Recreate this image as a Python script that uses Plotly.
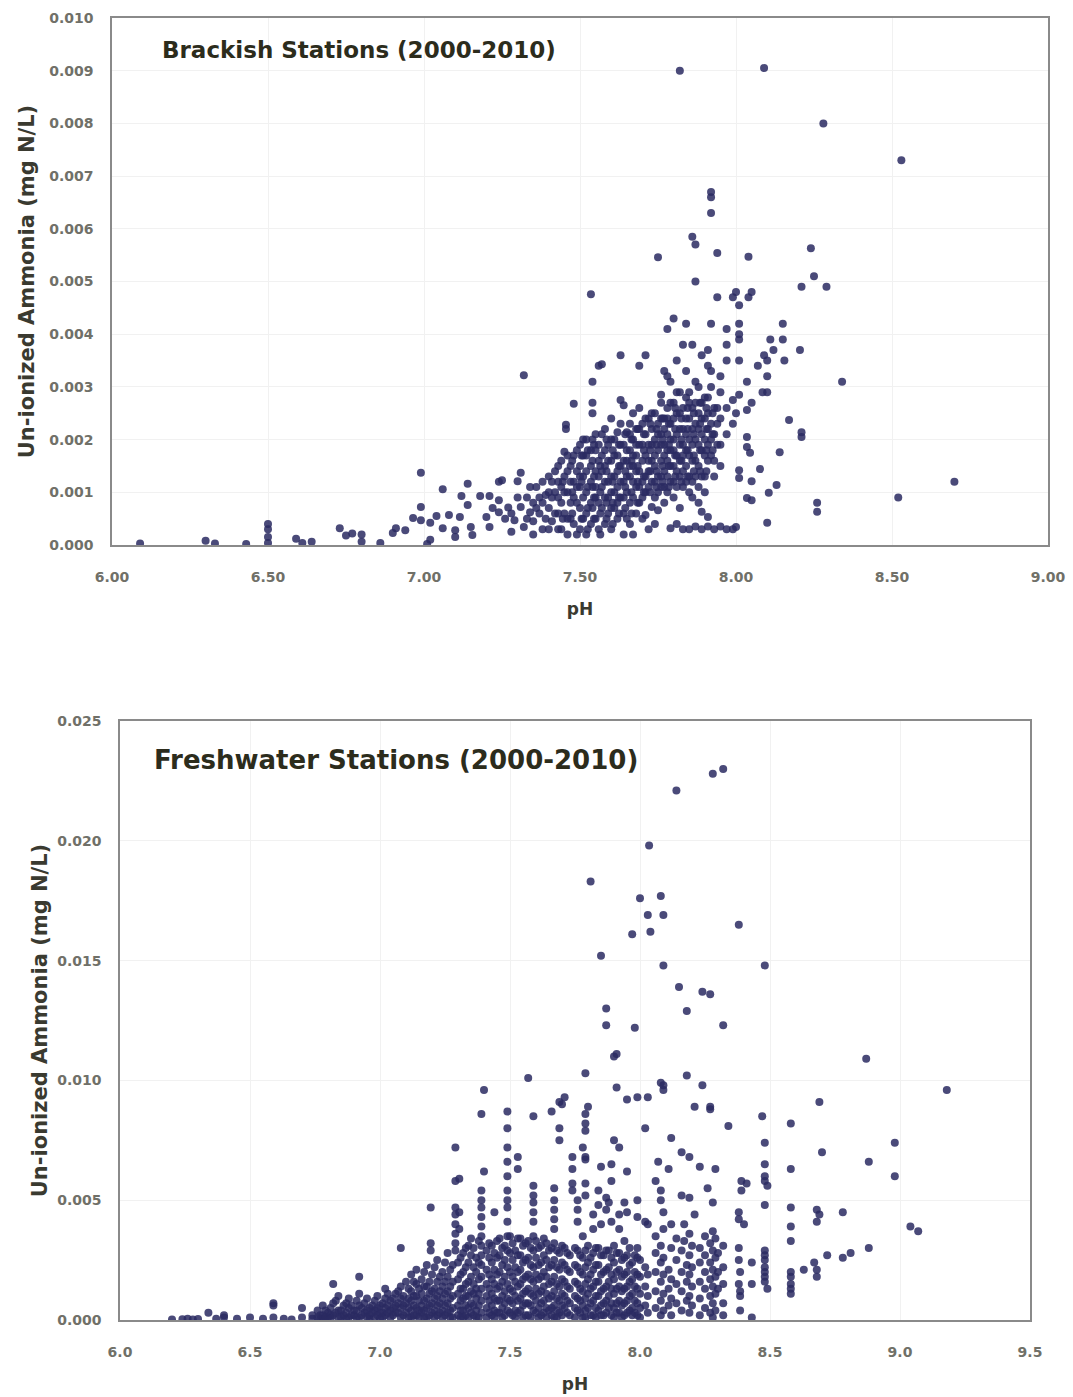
import plotly.graph_objects as go

# ---------------- Brackish stations: pH columns and un-ionized ammonia values ----------------
brackish_ph = [6.09, 6.30, 6.33, 6.43, 6.50, 6.59, 6.61, 6.64, 6.73, 6.75, 6.77, 6.80, 6.86,
               6.90, 6.91, 6.94, 6.965, 6.99, 7.01, 7.02, 7.04, 7.06, 7.08, 7.10, 7.115, 7.12,
               7.14, 7.15, 7.155, 7.18, 7.20, 7.21, 7.22, 7.24, 7.25, 7.26, 7.27, 7.28, 7.29,
               7.30, 7.31, 7.32, 7.33, 7.34, 7.35, 7.36, 7.37, 7.38, 7.39, 7.40, 7.41, 7.42,
               7.43, 7.44, 7.45, 7.455, 7.46, 7.47, 7.48, 7.49, 7.50, 7.51, 7.52, 7.535, 7.54,
               7.55, 7.56, 7.57, 7.58, 7.59, 7.60, 7.61, 7.62, 7.63, 7.64, 7.65, 7.66, 7.67,
               7.68, 7.69, 7.70, 7.71, 7.72, 7.73, 7.74, 7.75, 7.76, 7.77, 7.78, 7.79, 7.80,
               7.81, 7.82, 7.83, 7.84, 7.85, 7.86, 7.87, 7.88, 7.89, 7.90, 7.91, 7.92, 7.93,
               7.94, 7.95, 7.97, 7.99, 8.00, 8.01, 8.035, 8.04, 8.045, 8.05, 8.07, 8.077, 8.085,
               8.09, 8.10, 8.105, 8.11, 8.12, 8.13, 8.14, 8.15, 8.155, 8.17, 8.205, 8.21, 8.24,
               8.25, 8.26, 8.28, 8.29, 8.34, 8.52, 8.53, 8.70]

brackish_nh3 = [
    [0.00003], [0.00008], [0.00003], [0.00002], [0.0004, 0.0003, 0.00015, 0.00004],
    [0.00012], [0.00004], [0.00006], [0.00032], [0.00018], [0.00022], [0.0002, 0.00006],
    [0.00004],
    [0.00023], [0.00032], [0.00028], [0.00051], [0.00137, 0.00072, 0.00047], [0.00002],
    [0.0001, 0.00042], [0.00055], [0.00106, 0.00032], [0.00057], [0.00028, 0.00015],
    [0.00053], [0.00093],
    [0.00116, 0.00076], [0.00034], [0.00019], [0.00093], [0.00053], [0.00093, 0.00034],
    [0.0007], [0.0012, 0.00085, 0.00062], [0.00123], [0.0005], [0.00071], [0.0006, 0.00025],
    [0.00047],
    [0.00121, 0.0009], [0.00137, 0.00072], [0.00322, 0.00034], [0.0009, 0.0005],
    [0.00062, 0.0011], [0.0008, 0.00045, 0.0002], [0.0011, 0.0007], [0.0006, 0.0009],
    [0.0003, 0.0012, 0.0008], [0.00095, 0.0005], [0.0013, 0.0007, 0.0010, 0.0003],
    [0.00045, 0.0009, 0.0012], [0.0010, 0.0006, 0.0014],
    [0.0015, 0.0012, 0.0006, 0.0009, 0.0003], [0.0008, 0.0003, 0.0011, 0.0016],
    [0.00177, 0.0013, 0.0010, 0.0006], [0.00228, 0.0022],
    [0.0014, 0.0010, 0.0005, 0.0017, 0.0002], [0.0005, 0.0012, 0.0008, 0.0015],
    [0.00268, 0.0017, 0.0012, 0.0009, 0.0004], [0.0008, 0.0002, 0.0014, 0.0018, 0.0011],
    [0.0019, 0.0015, 0.0011, 0.0007, 0.0003, 0.0013], [0.0017, 0.0013, 0.0009, 0.0005, 0.0020],
    [0.0020, 0.0014, 0.0010, 0.0006, 0.0002, 0.0017],
    [0.00476, 0.0018, 0.0012, 0.0008, 0.0004, 0.0015],
    [0.0031, 0.0027, 0.0025, 0.0016, 0.0011, 0.0007, 0.0020],
    [0.0021, 0.0014, 0.0009, 0.0005, 0.0018, 0.0011],
    [0.0034, 0.0019, 0.0013, 0.0003, 0.0016, 0.0008],
    [0.00343, 0.0017, 0.0011, 0.0007, 0.0021, 0.0014],
    [0.0022, 0.0015, 0.0009, 0.0004, 0.0018, 0.0012],
    [0.0019, 0.0012, 0.0006, 0.0016, 0.0009],
    [0.0024, 0.0016, 0.0010, 0.0003, 0.0020, 0.0013, 0.0007],
    [0.0020, 0.0013, 0.0007, 0.0017, 0.0010],
    [0.00214, 0.0017, 0.0011, 0.0005, 0.0014, 0.0008],
    [0.0036, 0.00275, 0.0023, 0.0015, 0.0009, 0.0019, 0.0012],
    [0.00265, 0.0019, 0.0012, 0.0006, 0.0002, 0.0016, 0.0009],
    [0.00214, 0.0016, 0.0010, 0.0013, 0.0018, 0.0005],
    [0.0023, 0.0018, 0.0013, 0.0008, 0.0004, 0.0021, 0.0015],
    [0.0025, 0.0020, 0.0015, 0.0009, 0.0002, 0.0012, 0.0017],
    [0.0022, 0.0017, 0.0011, 0.0006, 0.0014, 0.0019],
    [0.0034, 0.0026, 0.0019, 0.0014, 0.0008, 0.0011, 0.0022],
    [0.0023, 0.0016, 0.0012, 0.0005, 0.0019, 0.0009],
    [0.0036, 0.0021, 0.0017, 0.00057, 0.0010, 0.0013, 0.0024],
    [0.0024, 0.0019, 0.0014, 0.0003, 0.0011, 0.0016],
    [0.0022, 0.0016, 0.0012, 0.00072, 0.0019, 0.0025],
    [0.0025, 0.0020, 0.0015, 0.0009, 0.0004, 0.0012, 0.0017],
    [0.00546, 0.0023, 0.0018, 0.0013, 0.00066, 0.0021, 0.0010],
    [0.00285, 0.0027, 0.0021, 0.0016, 0.0011, 0.0013, 0.0019, 0.0024],
    [0.0033, 0.0024, 0.0019, 0.0014, 0.0008, 0.0017, 0.0011, 0.0022],
    [0.0041, 0.0032, 0.0026, 0.0021, 0.0016, 0.0010, 0.0013, 0.0018, 0.0024],
    [0.0031, 0.0023, 0.0018, 0.0012, 0.00032, 0.0015, 0.0020, 0.0027],
    [0.0043, 0.0027, 0.0020, 0.0015, 0.0009, 0.0012, 0.0018, 0.0024],
    [0.0035, 0.0025, 0.0017, 0.0004, 0.0014, 0.0021, 0.0011, 0.0029],
    [0.0090, 0.0029, 0.0022, 0.0013, 0.0007, 0.0016, 0.0019, 0.0025],
    [0.0038, 0.0026, 0.0019, 0.0011, 0.0003, 0.0014, 0.0022, 0.0017],
    [0.0042, 0.0033, 0.0028, 0.0021, 0.0015, 0.0012, 0.0018, 0.0024],
    [0.0029, 0.0024, 0.0017, 0.0003, 0.0013, 0.0020, 0.0010, 0.0027],
    [0.00585, 0.0038, 0.0026, 0.0019, 0.0012, 0.0016, 0.0022, 0.0009],
    [0.0057, 0.0050, 0.00035, 0.0023, 0.0016, 0.0013, 0.0020, 0.0027, 0.0031],
    [0.0030, 0.0025, 0.0019, 0.0011, 0.0015, 0.0022, 0.0008],
    [0.0036, 0.0027, 0.0021, 0.00063, 0.0003, 0.0018, 0.0013, 0.0024],
    [0.0024, 0.0017, 0.0013, 0.0020, 0.0010, 0.0028],
    [0.0037, 0.0034, 0.0028, 0.0022, 0.00053, 0.00035, 0.0016, 0.0019, 0.0025],
    [0.0067, 0.0066, 0.0063, 0.0042, 0.0033, 0.0030, 0.0020, 0.0017, 0.0023],
    [0.0026, 0.0016, 0.0003, 0.0021, 0.0013],
    [0.00554, 0.0047, 0.0026, 0.0023, 0.0019],
    [0.0032, 0.0029, 0.0019, 0.00035, 0.0024, 0.0015],
    [0.0041, 0.0038, 0.0035, 0.0003, 0.0026, 0.0021],
    [0.00275, 0.0047, 0.0003, 0.0023],
    [0.0048, 0.00034, 0.0025],
    [0.0042, 0.0040, 0.0039, 0.0035, 0.00285, 0.00455, 0.00142, 0.00127],
    [0.0031, 0.00256, 0.00205, 0.00186, 0.00089],
    [0.00547, 0.0047], [0.00175], [0.0048, 0.0027, 0.00121, 0.00085], [0.0034], [0.00144],
    [0.0029],
    [0.00905, 0.0036], [0.0035, 0.0032, 0.0029, 0.00042], [0.00099], [0.0039], [0.0037],
    [0.00114], [0.00176], [0.0042, 0.0039], [0.0035], [0.00237], [0.0037],
    [0.0049, 0.00214, 0.00205], [0.00563],
    [0.0051], [0.0008, 0.00063], [0.0080], [0.0049], [0.0031], [0.0009], [0.0073], [0.0012],
]

# extra readings filling the dense brackish core (7.45-7.95)
brackish_core_ph = [7.445, 7.475, 7.505, 7.525, 7.545, 7.565, 7.585, 7.605, 7.625, 7.645,
                    7.665, 7.685, 7.705, 7.725, 7.745, 7.765, 7.785, 7.805, 7.825, 7.845,
                    7.865, 7.885, 7.905, 7.925]
brackish_core_nh3 = [
    [0.0012, 0.0005], [0.0016, 0.0010, 0.0006], [0.0017, 0.0012, 0.0005],
    [0.0018, 0.0011, 0.0007, 0.0003], [0.0019, 0.0013, 0.0009, 0.0005],
    [0.0015, 0.0010, 0.0006, 0.0002], [0.0020, 0.0014, 0.0008, 0.0005],
    [0.0018, 0.0012, 0.0008, 0.0004], [0.0019, 0.0015, 0.0009, 0.0006],
    [0.0021, 0.0014, 0.0011, 0.0007], [0.0020, 0.0016, 0.0010, 0.0006],
    [0.0022, 0.0015, 0.0012, 0.0008], [0.0021, 0.0018, 0.0013, 0.0010],
    [0.0023, 0.0018, 0.0014, 0.0010], [0.0022, 0.0019, 0.0014, 0.0011],
    [0.0024, 0.0020, 0.0015, 0.0012], [0.0023, 0.0019, 0.0015, 0.0011],
    [0.0026, 0.0022, 0.0017, 0.0013], [0.0024, 0.0020, 0.0016, 0.0012],
    [0.0026, 0.0022, 0.0018, 0.0013], [0.0025, 0.0021, 0.0017, 0.0014],
    [0.0027, 0.0023, 0.0018, 0.0014], [0.0026, 0.0022, 0.0018, 0.0014],
    [0.0025, 0.0021, 0.0018],
]

# ---------------- Freshwater stations ----------------
fresh_ph = [6.20, 6.24, 6.26, 6.28, 6.30, 6.34, 6.37, 6.40, 6.45, 6.50, 6.55, 6.59, 6.63,
            6.66, 6.70, 6.74, 6.76, 6.78, 6.80, 6.82, 6.84, 6.86, 6.88, 6.90, 6.92, 6.94,
            6.96, 6.98, 7.00, 7.02, 7.04, 7.06, 7.08, 7.10, 7.12, 7.14, 7.16, 7.18, 7.195,
            7.20, 7.22, 7.24, 7.26, 7.28, 7.29, 7.305, 7.31, 7.33, 7.35, 7.37, 7.39, 7.40,
            7.41, 7.43, 7.44, 7.45, 7.47, 7.49, 7.51, 7.53, 7.55, 7.57, 7.59, 7.61, 7.63,
            7.65, 7.66, 7.67, 7.69, 7.70, 7.71, 7.73, 7.74, 7.76, 7.78, 7.79, 7.80, 7.81,
            7.82, 7.84, 7.85, 7.86, 7.87, 7.88, 7.89, 7.90, 7.91, 7.92, 7.94, 7.95, 7.96,
            7.97, 7.98, 7.99, 8.00, 8.02, 8.03, 8.035, 8.04, 8.06, 8.07, 8.08, 8.09, 8.11,
            8.12, 8.14, 8.15, 8.16, 8.17, 8.18, 8.19, 8.20, 8.21, 8.23, 8.24, 8.25, 8.26,
            8.27, 8.28, 8.29, 8.30, 8.32, 8.34, 8.38, 8.385, 8.39, 8.40, 8.41, 8.43, 8.47,
            8.48, 8.49, 8.58, 8.63, 8.67, 8.68, 8.69, 8.70, 8.72, 8.78, 8.81, 8.87, 8.88,
            8.98, 9.04, 9.07, 9.18]

fresh_nh3 = [
    [0.00002], [0.00003], [0.00005], [0.00002], [0.00004], [0.0003], [0.00005],
    [0.0001, 0.0002], [0.00005], [0.0001], [0.00005], [0.0007, 0.0006, 0.0001], [0.00005],
    [0.00002], [0.0005, 0.0001], [0.0002, 0.00005], [0.0004, 0.0001],
    [0.0006, 0.0002, 0.00005], [0.0003, 0.0001], [0.0015, 0.0007, 0.0002],
    [0.0010, 0.0004, 0.0001], [0.0006, 0.0002], [0.0009, 0.0005, 0.0001], [0.0004, 0.0002],
    [0.0018, 0.0011, 0.0006, 0.0001], [0.0007, 0.0003],
    [0.0005, 0.0002, 0.00005], [0.0008, 0.0004, 0.0001], [0.0006, 0.0003, 0.00005],
    [0.0013, 0.0009, 0.0005, 0.0002], [0.0008, 0.0004, 0.0001], [0.0011, 0.0006, 0.0003],
    [0.0030, 0.0014, 0.0009, 0.0005, 0.0001], [0.0016, 0.0007, 0.0003],
    [0.0019, 0.0012, 0.0008, 0.0004, 0.0001], [0.0021, 0.0015, 0.0010, 0.0005, 0.0002],
    [0.0017, 0.0011, 0.0006, 0.0003], [0.0023, 0.0014, 0.0009, 0.0005, 0.0001],
    [0.0047, 0.0032, 0.0029],
    [0.0019, 0.0012, 0.0007, 0.0003], [0.0025, 0.0016, 0.0010, 0.0006, 0.0002],
    [0.0020, 0.0014, 0.0009, 0.0004, 0.0001], [0.0028, 0.0018, 0.0012, 0.0007, 0.0003],
    [0.0023, 0.0016, 0.0010, 0.0005, 0.0001],
    [0.0072, 0.0058, 0.0047, 0.0044, 0.0040, 0.0036, 0.0032, 0.0029],
    [0.0059, 0.0045, 0.0038], [0.0026, 0.0019, 0.0013, 0.0008, 0.0004, 0.0001],
    [0.0030, 0.0022, 0.0015, 0.0010, 0.0006, 0.0002],
    [0.0034, 0.0027, 0.0018, 0.0012, 0.0007, 0.0003],
    [0.0026, 0.0020, 0.0013, 0.0009, 0.0004, 0.0001],
    [0.0086, 0.0054, 0.0050, 0.0047, 0.0043, 0.0039, 0.0035, 0.0031, 0.0027, 0.0023,
     0.0018, 0.0013, 0.0008, 0.0003],
    [0.0062, 0.0096],
    [0.0029, 0.0021, 0.0015, 0.0010, 0.0005, 0.0001],
    [0.0031, 0.0024, 0.0017, 0.0011, 0.0006, 0.0002], [0.0045],
    [0.0033, 0.0026, 0.0019, 0.0013, 0.0008, 0.0003],
    [0.0030, 0.0023, 0.0016, 0.0010, 0.0005, 0.0001],
    [0.0087, 0.0080, 0.0072, 0.0066, 0.0060, 0.0054, 0.0050, 0.0047, 0.0041, 0.0035,
     0.0029, 0.0022, 0.0015, 0.0009, 0.0004],
    [0.0032, 0.0025, 0.0018, 0.0012, 0.0007, 0.0002],
    [0.0068, 0.0063, 0.0034, 0.0027, 0.0020, 0.0014, 0.0008, 0.0003],
    [0.0031, 0.0024, 0.0017, 0.0011, 0.0006, 0.0001],
    [0.0101, 0.0033, 0.0026, 0.0019, 0.0013, 0.0007, 0.0002],
    [0.0085, 0.0056, 0.0052, 0.0049, 0.0045, 0.0041, 0.0035, 0.0029, 0.0022, 0.0016,
     0.0010, 0.0004],
    [0.0030, 0.0023, 0.0017, 0.0011, 0.0005, 0.0001],
    [0.0034, 0.0027, 0.0020, 0.0014, 0.0008, 0.0003],
    [0.0029, 0.0022, 0.0015, 0.0009, 0.0004], [0.0087],
    [0.0055, 0.0050, 0.0046, 0.0042, 0.0038, 0.0032, 0.0025, 0.0018, 0.0012, 0.0006, 0.0001],
    [0.0091, 0.0080, 0.0075, 0.0028, 0.0021, 0.0014, 0.0008, 0.0003], [0.0090],
    [0.0093, 0.0030, 0.0023, 0.0016, 0.0010, 0.0005],
    [0.0027, 0.0020, 0.0013, 0.0007, 0.0002], [0.0068, 0.0063, 0.0057, 0.0054],
    [0.0050, 0.0046, 0.0041, 0.0029, 0.0022, 0.0015, 0.0009, 0.0004],
    [0.0072, 0.0035, 0.0026, 0.0019, 0.0012, 0.0006, 0.0001],
    [0.0103, 0.0086, 0.0082, 0.0079, 0.0068, 0.0067, 0.0057, 0.0052],
    [0.0089, 0.0031, 0.0024, 0.0017, 0.0011, 0.0005], [0.0183],
    [0.0044, 0.0038, 0.0028, 0.0021, 0.0014, 0.0008, 0.0002],
    [0.0054, 0.0048, 0.0030, 0.0023, 0.0016, 0.0010, 0.0004], [0.0152, 0.0064, 0.0040],
    [0.0027, 0.0020, 0.0013, 0.0007, 0.0002], [0.0130, 0.0123, 0.0051, 0.0046],
    [0.0049, 0.0029, 0.0022, 0.0016, 0.0010, 0.0005], [0.0058, 0.0065, 0.0041],
    [0.0110, 0.0075, 0.0031, 0.0024, 0.0017, 0.0011, 0.0005, 0.0001], [0.0111, 0.0097],
    [0.0072, 0.0044, 0.0038, 0.0028, 0.0021, 0.0014, 0.0008, 0.0003],
    [0.0049, 0.0033, 0.0026, 0.0019, 0.0013, 0.0007, 0.0002], [0.0092, 0.0062, 0.0045],
    [0.0030, 0.0023, 0.0016, 0.0010, 0.0004], [0.0161],
    [0.0122, 0.0027, 0.0020, 0.0014, 0.0008, 0.0003], [0.0093, 0.0050, 0.0043, 0.0030],
    [0.0176, 0.0025, 0.0018, 0.0011, 0.0005, 0.0001], [0.0080, 0.0041, 0.0022, 0.0014, 0.0006],
    [0.0169, 0.0093, 0.0040, 0.0019, 0.0010, 0.0003], [0.0198], [0.0162],
    [0.0058, 0.0035, 0.0028, 0.0020, 0.0012, 0.0005], [0.0066],
    [0.0177, 0.0099, 0.0054, 0.0050, 0.0031, 0.0024, 0.0016, 0.0008, 0.0002],
    [0.0169, 0.0148, 0.0098, 0.0096, 0.0045, 0.0038, 0.0026, 0.0019, 0.0011, 0.0004],
    [0.0063, 0.0021, 0.0013, 0.0006],
    [0.0076, 0.0040, 0.0030, 0.0017, 0.0009, 0.0002], [0.0221, 0.0034, 0.0025, 0.0015, 0.0007],
    [0.0139], [0.0070, 0.0052, 0.0029, 0.0020, 0.0012, 0.0004], [0.0040, 0.0033],
    [0.0129, 0.0102, 0.0023, 0.0016, 0.0008],
    [0.0068, 0.0051, 0.0036, 0.0027, 0.0019, 0.0010, 0.0003], [0.0031, 0.0022, 0.0014, 0.0006],
    [0.0089, 0.0044], [0.0064, 0.0030, 0.0024, 0.0016, 0.0009, 0.0002], [0.0137, 0.0098],
    [0.0035, 0.0027, 0.0020, 0.0013, 0.0005], [0.0055],
    [0.0136, 0.0089, 0.0088, 0.0032, 0.0024, 0.0017, 0.0010, 0.0003],
    [0.0228, 0.0049, 0.0037, 0.0029, 0.0021, 0.0014, 0.0007, 0.0001],
    [0.0063, 0.0034, 0.0026, 0.0018, 0.0011, 0.0004], [0.0028, 0.0020, 0.0013],
    [0.0230, 0.0123, 0.0031, 0.0022, 0.0015, 0.0007, 0.0002], [0.0081],
    [0.0165, 0.0045, 0.0042, 0.0030, 0.0025, 0.0015], [0.0012, 0.0010, 0.0004, 0.0020],
    [0.0054, 0.0058], [0.0040], [0.0057], [0.0024, 0.0001, 0.0015], [0.0085],
    [0.0148, 0.0074, 0.0065, 0.0060, 0.0058, 0.0048, 0.0029, 0.0027, 0.0025, 0.0022,
     0.0020, 0.0018, 0.0016], [0.0056, 0.0013],
    [0.0082, 0.0063, 0.0047, 0.0039, 0.0033, 0.0020, 0.0018, 0.0015, 0.0013, 0.0011],
    [0.0021], [0.0024], [0.0046, 0.0041, 0.0021, 0.0018], [0.0091, 0.0044], [0.0070],
    [0.0027], [0.0026, 0.0045], [0.0028], [0.0109], [0.0066, 0.0030], [0.0074, 0.0060],
    [0.0039], [0.0037], [0.0096],
]

# extra readings filling the dense freshwater band near zero (6.77-7.99)
fresh_core_ph = [6.77, 6.79, 6.81, 6.83, 6.85, 6.87, 6.89, 6.91, 6.93, 6.95, 6.97, 6.99,
                 7.01, 7.03, 7.05, 7.07, 7.09, 7.11, 7.13, 7.15, 7.17, 7.19, 7.21, 7.23,
                 7.25, 7.27, 7.30, 7.32, 7.34, 7.36, 7.38, 7.42, 7.44, 7.46, 7.48, 7.50,
                 7.52, 7.54, 7.56, 7.58, 7.60, 7.62, 7.64, 7.66, 7.68, 7.70, 7.72, 7.75,
                 7.77, 7.79, 7.81, 7.83, 7.85, 7.87, 7.89, 7.91, 7.93, 7.95, 7.97, 7.99]
fresh_core_nh3 = [
    [0.0002, 0.00005], [0.0004, 0.0001], [0.0005, 0.0002, 0.00005], [0.0003, 0.0008],
    [0.0004, 0.0001], [0.0007, 0.0003, 0.00005], [0.0002, 0.0006], [0.0008, 0.0004, 0.0001],
    [0.0005, 0.0002], [0.0009, 0.0004, 0.0001], [0.0006, 0.0003], [0.0010, 0.0005, 0.0002],
    [0.0007, 0.0003, 0.0001], [0.0011, 0.0006, 0.0003], [0.0009, 0.0005, 0.0002],
    [0.0012, 0.0007, 0.0003], [0.0010, 0.0006, 0.0002], [0.0013, 0.0009, 0.0005, 0.0001],
    [0.0016, 0.0010, 0.0006, 0.0002], [0.0013, 0.0008, 0.0004, 0.0001],
    [0.0020, 0.0014, 0.0008, 0.0004, 0.0001], [0.0016, 0.0011, 0.0006, 0.0002],
    [0.0022, 0.0013, 0.0009, 0.0004, 0.0001], [0.0018, 0.0012, 0.0007, 0.0003],
    [0.0024, 0.0016, 0.0011, 0.0006, 0.0002], [0.0021, 0.0014, 0.0009, 0.0004, 0.0001],
    [0.0024, 0.0017, 0.0011, 0.0006, 0.0002], [0.0028, 0.0020, 0.0013, 0.0009, 0.0004, 0.0001],
    [0.0031, 0.0024, 0.0016, 0.0010, 0.0005, 0.0001], [0.0030, 0.0022, 0.0015, 0.0011, 0.0006, 0.0002],
    [0.0033, 0.0024, 0.0017, 0.0011, 0.0006, 0.0001], [0.0032, 0.0026, 0.0019, 0.0013, 0.0008, 0.0003],
    [0.0028, 0.0021, 0.0015, 0.0009, 0.0004, 0.0001], [0.0034, 0.0027, 0.0020, 0.0014, 0.0008, 0.0003],
    [0.0031, 0.0025, 0.0018, 0.0012, 0.0007, 0.0002], [0.0035, 0.0028, 0.0020, 0.0013, 0.0008, 0.0003],
    [0.0029, 0.0022, 0.0016, 0.0010, 0.0004, 0.0001], [0.0034, 0.0027, 0.0021, 0.0015, 0.0009, 0.0004],
    [0.0032, 0.0025, 0.0018, 0.0012, 0.0007, 0.0002], [0.0030, 0.0023, 0.0017, 0.0011, 0.0006, 0.0001],
    [0.0033, 0.0026, 0.0019, 0.0013, 0.0008, 0.0003], [0.0031, 0.0024, 0.0018, 0.0012, 0.0007, 0.0002],
    [0.0032, 0.0025, 0.0018, 0.0011, 0.0005, 0.0001], [0.0030, 0.0023, 0.0016, 0.0010, 0.0005, 0.0002],
    [0.0029, 0.0022, 0.0015, 0.0009, 0.0004, 0.0001], [0.0031, 0.0024, 0.0017, 0.0011, 0.0006, 0.0002],
    [0.0028, 0.0021, 0.0014, 0.0008, 0.0003], [0.0030, 0.0023, 0.0016, 0.0010, 0.0005, 0.0001],
    [0.0027, 0.0020, 0.0013, 0.0008, 0.0003], [0.0029, 0.0022, 0.0015, 0.0009, 0.0004, 0.0001],
    [0.0026, 0.0019, 0.0013, 0.0007, 0.0002], [0.0030, 0.0023, 0.0016, 0.0010, 0.0005, 0.0001],
    [0.0027, 0.0019, 0.0012, 0.0006, 0.0002], [0.0029, 0.0021, 0.0014, 0.0008, 0.0003],
    [0.0026, 0.0019, 0.0013, 0.0007, 0.0002], [0.0028, 0.0020, 0.0013, 0.0007, 0.0003],
    [0.0025, 0.0018, 0.0012, 0.0006, 0.0001], [0.0027, 0.0020, 0.0014, 0.0008, 0.0003],
    [0.0024, 0.0017, 0.0011, 0.0005, 0.0002], [0.0026, 0.0019, 0.0013, 0.0007, 0.0002],
]

brackish_title = "Brackish Stations (2000-2010)"
fresh_title = "Freshwater Stations (2000-2010)"
y_title = "Un-ionized Ammonia (mg N/L)"
x_title = "pH"


def expand(ph_cols, val_cols):
    xs, ys = [], []
    for ph, vals in zip(ph_cols, val_cols):
        for v in vals:
            xs.append(ph)
            ys.append(v)
    return xs, ys


bx, by = expand(brackish_ph + brackish_core_ph, brackish_nh3 + brackish_core_nh3)
fx, fy = expand(fresh_ph + fresh_core_ph, fresh_nh3 + fresh_core_nh3)

W, H = 1073, 1397
marker = dict(size=8, color="rgba(42,42,98,0.85)", line=dict(width=0))

fig = go.Figure()
fig.add_trace(go.Scatter(x=bx, y=by, mode="markers", marker=marker, xaxis="x", yaxis="y",
                         showlegend=False))
fig.add_trace(go.Scatter(x=fx, y=fy, mode="markers", marker=marker, xaxis="x2", yaxis="y2",
                         showlegend=False))

tickfont = dict(family="DejaVu Sans", size=14, color="#707068", weight="bold")
titlefont = dict(family="DejaVu Sans", size=17, color="#3a3a30", weight="bold")
ytitlefont = dict(family="DejaVu Sans", size=21, color="#3a3a30", weight="bold")
axis_common = dict(showline=True, mirror=True, linecolor="#8a8a8a", linewidth=1.5,
                   showgrid=True, gridcolor="#f1f1f1", gridwidth=1, zeroline=False,
                   ticks="", tickfont=tickfont, automargin=False)

fig.update_layout(
    template="none",
    width=W, height=H, margin=dict(l=0, r=0, t=0, b=0),
    paper_bgcolor="white", plot_bgcolor="white",
    xaxis=dict(domain=[112 / W, 1048 / W], range=[6, 9], dtick=0.5, tick0=6,
               tickformat=".2f", anchor="y", ticklabelstandoff=18,
               title=dict(text=x_title, font=titlefont, standoff=20), **axis_common),
    yaxis=dict(domain=[1 - 545 / H, 1 - 18 / H], range=[0, 0.010], dtick=0.001,
               tickformat=".3f", anchor="x", ticklabelstandoff=14,
               title=dict(text=y_title, font=ytitlefont, standoff=9), **axis_common),
    xaxis2=dict(domain=[120 / W, 1030 / W], range=[6, 9.5], dtick=0.5, tick0=6,
                tickformat=".1f", anchor="y2", ticklabelstandoff=18,
                title=dict(text=x_title, font=titlefont, standoff=20), **axis_common),
    yaxis2=dict(domain=[1 - 1320 / H, 1 - 721 / H], range=[0, 0.025], dtick=0.005,
                tickformat=".3f", anchor="x2", ticklabelstandoff=14,
                title=dict(text=y_title, font=ytitlefont, standoff=4), **axis_common),
    annotations=[
        dict(text="<b>" + brackish_title + "</b>", xref="paper", yref="paper",
             x=160 / W, y=1 - 50 / H, xanchor="left", yanchor="middle", showarrow=False,
             font=dict(family="DejaVu Sans", size=23, color="#2c2c1c")),
        dict(text="<b>" + fresh_title + "</b>", xref="paper", yref="paper",
             x=152 / W, y=1 - 760 / H, xanchor="left", yanchor="middle", showarrow=False,
             font=dict(family="DejaVu Sans", size=26, color="#2c2c1c")),
    ],
)

fig.write_html("out.html")
